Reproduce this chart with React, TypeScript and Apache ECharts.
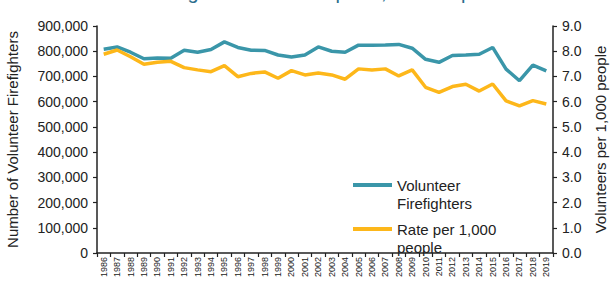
import React, { useEffect, useRef } from "react";
import * as echarts from "echarts";

const titleText = "Volunteer Firefighters and Rate per 1,000 People";
const years = [
  "1986", "1987", "1988", "1989", "1990", "1991", "1992", "1993", "1994", "1995",
  "1996", "1997", "1998", "1999", "2000", "2001", "2002", "2003", "2004", "2005",
  "2006", "2007", "2008", "2009", "2010", "2011", "2012", "2013", "2014", "2015",
  "2016", "2017", "2018", "2019",
];
const volunteers = [
  808000, 817000, 796000, 770000, 773000, 772000, 804000, 796000, 807000, 837000,
  815000, 804000, 803000, 785000, 777000, 785000, 817000, 800000, 796000, 824000,
  824000, 825000, 827000, 812000, 768000, 756000, 783000, 785000, 788000, 815000,
  729000, 683000, 745000, 722000,
];
const ratePer1000 = [
  7.88, 8.05, 7.78, 7.48, 7.56, 7.6, 7.35, 7.26, 7.19, 7.43,
  6.99, 7.12, 7.18, 6.93, 7.23, 7.06, 7.14, 7.06, 6.89, 7.3,
  7.26, 7.3, 7.02, 7.26, 6.57, 6.37, 6.6, 6.69, 6.42, 6.7,
  6.03, 5.83, 6.04, 5.91,
];
const leftAxisName = "Number of Volunteer Firefighters";
const rightAxisName = "Volunteers per 1,000 people";
const seriesNames = ["Volunteer Firefighters", "Rate per 1,000 people"];
const legendLabels = [" \nVolunteer\nFirefighters", " \nRate per 1,000\npeople"];

const FONT = "Liberation Sans, Arial, sans-serif";
const TEAL = "#3A96A9";
const GOLD = "#FDB71A";
const INK = "#222222";

export default function App() {
  const ref = useRef<HTMLDivElement>(null);
  useEffect(() => {
    if (!ref.current) return;
    const chart = echarts.init(ref.current, undefined, { renderer: "svg" });
    const legendTextStyle = {
      fontFamily: FONT,
      fontSize: 15,
      color: INK,
      lineHeight: 18,
    };
    const legendBase = {
      left: 353,
      icon: "rect",
      itemWidth: 39,
      itemHeight: 4,
      padding: 0,
      textStyle: legendTextStyle,
    };
    chart.setOption({
      animation: false,
      backgroundColor: "#ffffff",
      title: {
        text: titleText,
        left: 53,
        top: -18,
        padding: 0,
        textStyle: { fontFamily: FONT, fontSize: 20, fontWeight: "normal", color: "#2B6E8C" },
      },
      grid: { left: 97, right: 57, top: 26, bottom: 29, containLabel: false, outerBoundsMode: "none" },
      legend: [
        {
          ...legendBase,
          data: [seriesNames[0]],
          top: 158,
          formatter: () => legendLabels[0],
        },
        {
          ...legendBase,
          data: [seriesNames[1]],
          top: 202,
          formatter: () => legendLabels[1],
        },
      ],
      xAxis: {
        type: "category",
        data: years,
        boundaryGap: true,
        axisLine: { lineStyle: { color: INK, width: 1.5 } },
        axisTick: { show: true, length: 4, lineStyle: { color: INK, width: 1.2 } },
        axisLabel: { rotate: 90, fontSize: 9, fontFamily: FONT, color: INK, margin: 4, interval: 0 },
      },
      yAxis: [
        {
          type: "value",
          min: 0,
          max: 900000,
          interval: 100000,
          name: leftAxisName,
          nameLocation: "middle",
          nameGap: 77,
          nameTextStyle: { fontFamily: FONT, fontSize: 15, color: INK },
          axisLine: { show: true, lineStyle: { color: INK, width: 1.5 } },
          axisTick: { show: true, length: 4, lineStyle: { color: INK, width: 1.2 } },
          splitLine: { show: false },
          axisLabel: {
            fontFamily: FONT,
            fontSize: 14,
            color: INK,
            margin: 9,
            formatter: (v: number) => v.toLocaleString("en-US"),
          },
        },
        {
          type: "value",
          min: 0,
          max: 9,
          interval: 1,
          position: "right",
          name: rightAxisName,
          nameLocation: "middle",
          nameGap: 40,
          nameTextStyle: { fontFamily: FONT, fontSize: 15, color: INK },
          axisLine: { show: true, lineStyle: { color: INK, width: 1.5 } },
          axisTick: { show: true, length: 4, lineStyle: { color: INK, width: 1.2 } },
          splitLine: { show: false },
          axisLabel: {
            fontFamily: FONT,
            fontSize: 14,
            color: INK,
            margin: 9,
            formatter: (v: number) => v.toFixed(1),
          },
        },
      ],
      series: [
        {
          name: seriesNames[0],
          type: "line",
          data: volunteers,
          yAxisIndex: 0,
          symbol: "none",
          lineStyle: { color: TEAL, width: 3.5 },
          itemStyle: { color: TEAL },
        },
        {
          name: seriesNames[1],
          type: "line",
          data: ratePer1000,
          yAxisIndex: 1,
          symbol: "none",
          lineStyle: { color: GOLD, width: 3.5 },
          itemStyle: { color: GOLD },
        },
      ],
    });
    return () => chart.dispose();
  }, []);
  return <div ref={ref} style={{ width: 610, height: 282, position: "fixed", left: 0, top: 0 }} />;
}
